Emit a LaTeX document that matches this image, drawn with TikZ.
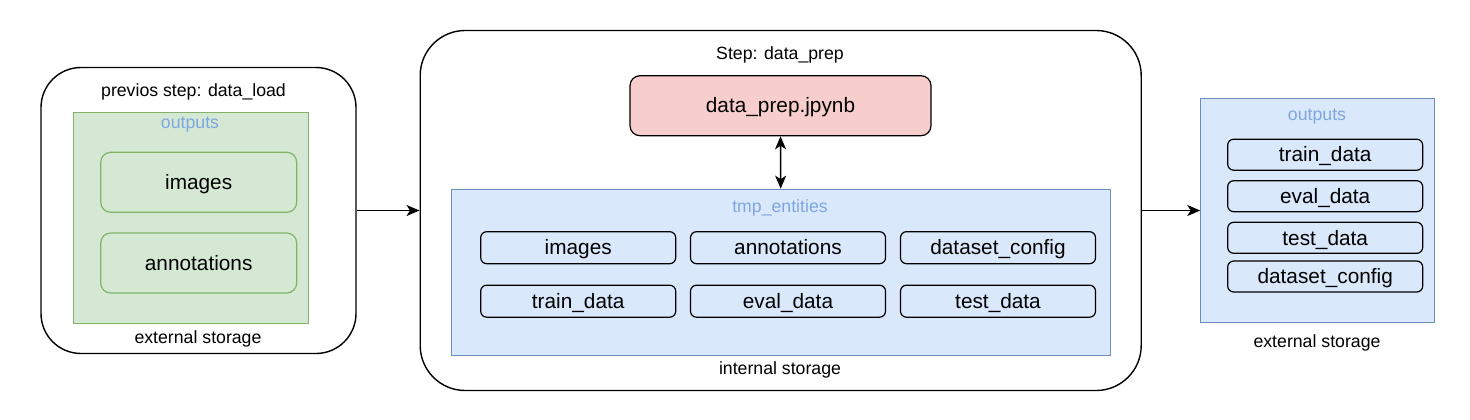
\documentclass[tikz,border=0pt]{standalone}
\usepackage{fontspec}
\setmainfont{Liberation Sans}
\usetikzlibrary{arrows.meta}
\definecolor{gfill}{HTML}{D5E8D4}
\definecolor{gline}{HTML}{82B366}
\definecolor{bfill}{HTML}{DAE8FC}
\definecolor{bline}{HTML}{6C8EBF}
\definecolor{rfill}{HTML}{F8CECC}
\definecolor{lblue}{HTML}{7EA6E0}
\tikzset{
  container/.style={draw, line width=1.4pt, fill=white, inner sep=0pt},
  group/.style={draw, line width=1.1pt, inner sep=0pt},
  item/.style={draw, line width=1.2pt, rounded corners=6pt, inner sep=0pt,
    font=\fontsize{20.8}{24}\selectfont, text height=18.8pt, text depth=4.4pt},
  lbl/.style={inner sep=0pt, font=\fontsize{17.7}{21}\selectfont, text height=16pt, text depth=3.75pt},
  biglbl/.style={lbl, text=lblue},
  flow/.style={line width=1.4pt, -{Stealth[length=13pt, width=11pt, inset=3.5pt]}},
  both/.style={line width=1.4pt, {Stealth[length=13pt, width=11pt, inset=3.5pt]}-{Stealth[length=13pt, width=11pt, inset=3.5pt]}}
}
\begin{document}
\begin{tikzpicture}[x=1pt, y=-1pt]
\useasboundingbox (0,0) rectangle (1470,420);
\fill[white] (0,0) rectangle (1470,420);

% left container
\node[container, rounded corners=40pt, minimum width=315pt, minimum height=286pt] (left) at (198.5,210.5) {};
\node[lbl] (lefttitle) at (193.5,90) {previos step: data\_load};
\node[group, fill=gfill, draw=gline, minimum width=235pt, minimum height=211pt] (gout) at (190.8,218) {};
\node[biglbl] (goutlbl) at (190,122.3) {outputs};
\node[item, fill=gfill, draw=gline, rounded corners=10pt, minimum width=196pt, minimum height=60pt] (gimg) at (198.7,182.3) {images};
\node[item, fill=gfill, draw=gline, rounded corners=10pt, minimum width=196pt, minimum height=60pt] (gann) at (198.7,263) {annotations};
\node[lbl] (leftstor) at (198,337.7) {external storage};

% middle container
\node[container, rounded corners=45pt, minimum width=721pt, minimum height=360pt] (mid) at (780.7,210.5) {};
\node[lbl] (midtitle) at (780,53) {Step: data\_prep};
\node[item, fill=rfill, rounded corners=10pt, minimum width=301pt, minimum height=60pt] (jp) at (780.5,105.7) {data\_prep.jpynb};
\node[group, fill=bfill, draw=bline, minimum width=659pt, minimum height=166pt] (tmp) at (780.7,272.2) {};
\node[biglbl] (tmplbl) at (780,206.7) {tmp\_entities};
\node[item, fill=bfill, minimum width=195pt, minimum height=32pt] (timg) at (578.2,247.7) {images};
\node[item, fill=bfill, minimum width=195pt, minimum height=32pt] (tann) at (788,247.7) {annotations};
\node[item, fill=bfill, minimum width=195pt, minimum height=32pt] (tcfg) at (998,247.7) {dataset\_config};
\node[item, fill=bfill, minimum width=195pt, minimum height=32pt] (ttrain) at (578.2,301.2) {train\_data};
\node[item, fill=bfill, minimum width=195pt, minimum height=32pt] (teval) at (788,301.2) {eval\_data};
\node[item, fill=bfill, minimum width=195pt, minimum height=32pt] (ttest) at (998,301.2) {test\_data};
\node[lbl] (midstor) at (780,368.3) {internal storage};

% right group
\node[group, fill=bfill, draw=bline, minimum width=234pt, minimum height=224pt] (rout) at (1317.8,210.5) {};
\node[biglbl] (routlbl) at (1317,114) {outputs};
\node[item, fill=bfill, minimum width=195pt, minimum height=31pt] (rtrain) at (1325.2,154.7) {train\_data};
\node[item, fill=bfill, minimum width=195pt, minimum height=31pt] (reval) at (1325.2,196.2) {eval\_data};
\node[item, fill=bfill, minimum width=195pt, minimum height=31pt] (rtest) at (1325.2,237.8) {test\_data};
\node[item, fill=bfill, minimum width=195pt, minimum height=31pt] (rcfg) at (1325.2,276.5) {dataset\_config};
\node[lbl] (rightstor) at (1317,341.7) {external storage};

% connectors
\draw[flow] (left.east) -- (mid.west);
\draw[flow] (mid.east) -- (rout.west);
\draw[both] (jp.south) -- (tmp.north);
\end{tikzpicture}
\end{document}
